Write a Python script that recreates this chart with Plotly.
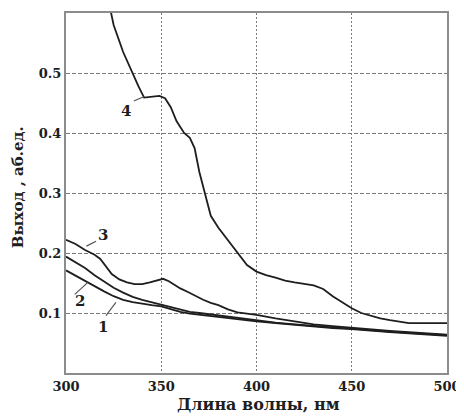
import plotly.graph_objects as go

# ---- data ----
wl4 = [323, 325, 330, 335, 338, 341, 345, 349, 352, 355, 358, 362, 365, 367.5, 370, 372.7,
       376, 380, 385, 390, 395, 400, 405, 410, 415, 420, 425, 430, 435, 440, 445, 450,
       455, 460, 465, 470, 475, 480, 490, 500]
y4 = [0.61, 0.58, 0.535, 0.498, 0.478, 0.459, 0.46, 0.462, 0.458, 0.443, 0.42, 0.40, 0.392,
      0.375, 0.335, 0.30, 0.262, 0.242, 0.222, 0.202, 0.180, 0.169, 0.163, 0.159, 0.154,
      0.151, 0.148, 0.146, 0.14, 0.128, 0.118, 0.108, 0.1, 0.095, 0.091, 0.088, 0.085,
      0.083, 0.083, 0.083]

wl3 = [300, 305, 310, 315, 318, 321, 324, 328, 332, 336, 340, 344, 348, 351, 354, 357, 360,
       364, 368, 372, 376, 380, 385, 390, 395, 400, 410, 420, 430, 440, 450, 460, 470, 480,
       490, 500]
y3 = [0.222, 0.215, 0.205, 0.197, 0.19, 0.178, 0.165, 0.156, 0.151, 0.148, 0.148, 0.151,
      0.155, 0.157, 0.153, 0.147, 0.141, 0.135, 0.128, 0.122, 0.117, 0.113, 0.106, 0.101,
      0.099, 0.097, 0.091, 0.086, 0.081, 0.078, 0.075, 0.072, 0.07, 0.068, 0.066, 0.064]

wl12 = [300, 305, 310, 315, 320, 325, 330, 335, 340, 345, 350, 355, 360, 365, 370, 375, 380,
        390, 400, 410, 420, 430, 440, 450, 460, 470, 480, 490, 500]
y2 = [0.194, 0.185, 0.175, 0.163, 0.152, 0.142, 0.134, 0.127, 0.122, 0.118, 0.114, 0.109,
      0.105, 0.102, 0.1, 0.098, 0.096, 0.091, 0.087, 0.084, 0.081, 0.078, 0.076, 0.074,
      0.071, 0.069, 0.067, 0.065, 0.063]
y1 = [0.171, 0.162, 0.153, 0.144, 0.136, 0.128, 0.122, 0.118, 0.115, 0.113, 0.111, 0.106,
      0.102, 0.099, 0.097, 0.095, 0.094, 0.09, 0.086, 0.083, 0.08, 0.077, 0.075, 0.073,
      0.07, 0.068, 0.066, 0.064, 0.062]

x_ticks = [300, 350, 400, 450, 500]
y_ticks = [0.1, 0.2, 0.3, 0.4, 0.5]
y_tick_text = ["0.1", "0.2", "0.3", "0.4", "0.5"]

curve_labels = ["1", "2", "3", "4"]
# label text position (wl, value) and leader line (from -> to)
label_pos = [(319.3, 0.0764), (307.2, 0.120), (319.3, 0.230), (331.3, 0.436)]
leader_from = [(321.0, 0.0956), (304.6, 0.131), (310.7, 0.2115), (335.6, 0.4534)]
leader_to = [(326.2, 0.1176), (311.5, 0.151), (315.8, 0.2197), (340.8, 0.4605)]

x_title = "Длина волны, нм"
y_title = "Выход , аб.ед."

SERIF = "DejaVu Serif, serif"
INK = "#1e1e1e"
LINE = dict(color=INK, width=1.8)

fig = go.Figure()
for xs, ys in [(wl12, y1), (wl12, y2), (wl3, y3), (wl4, y4)]:
    fig.add_trace(go.Scatter(x=xs, y=ys, mode="lines", line=LINE, showlegend=False,
                             hoverinfo="skip"))

shapes = []
annotations = []
for lab, (tx, ty), (fx, fy), (ex, ey) in zip(curve_labels, label_pos, leader_from, leader_to):
    shapes.append(dict(type="line", xref="x", yref="y", x0=fx, y0=fy, x1=ex, y1=ey,
                       line=dict(color="#555", width=1.2)))
    annotations.append(dict(x=tx, y=ty, xref="x", yref="y", text=lab, showarrow=False,
                            font=dict(family=SERIF, size=15, color=INK, weight="bold")))

annotations.append(dict(x=0.504, y=-0.088, xref="paper", yref="paper", text=x_title,
                        showarrow=False, xanchor="center", yanchor="middle",
                        font=dict(family=SERIF, size=16, color=INK, weight="bold")))
annotations.append(dict(x=-0.125, y=0.517, xref="paper", yref="paper", text=y_title,
                        showarrow=False, textangle=-90, xanchor="center", yanchor="middle",
                        font=dict(family=SERIF, size=15, color=INK, weight="bold")))

# page body has an 8px margin: compensate so the plot area lands where the reference has it
fig.update_layout(
    width=456, height=408,
    margin=dict(l=58, r=14, t=3, b=43),
    paper_bgcolor="white", plot_bgcolor="white",
    shapes=shapes, annotations=annotations,
    xaxis=dict(range=[300, 500], tickvals=x_ticks, showgrid=True, gridcolor="#7a7a7a",
               griddash="2px,2px", gridwidth=1.3, showline=True, linecolor="#8c8c8c",
               linewidth=2, mirror=True, ticks="", zeroline=False,
               tickfont=dict(family=SERIF, size=13, color=INK, weight="bold")),
    yaxis=dict(range=[0, 0.6], tickvals=y_ticks, ticktext=y_tick_text, showgrid=True,
               gridcolor="#7a7a7a", griddash="4px,2px", gridwidth=1.3, showline=True,
               linecolor="#8c8c8c", linewidth=2, mirror=True, ticks="", zeroline=False,
               tickfont=dict(family=SERIF, size=13, color=INK, weight="bold")),
)

fig.write_html("out.html")
